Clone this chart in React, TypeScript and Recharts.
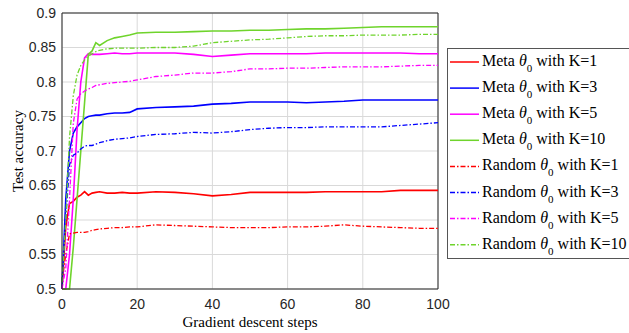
import React from "react";
import {
  LineChart,
  Line,
  XAxis,
  YAxis,
  CartesianGrid,
  Legend,
  ReferenceLine,
} from "recharts";

const steps = [0, 1, 2, 3, 4, 5, 6, 7, 8, 9, 10, 12, 14, 16, 18, 20, 25, 30, 35, 40, 45, 50, 55, 60, 65, 70, 75, 80, 85, 90, 95, 100];

const metaK1 = [0.5, 0.59, 0.624, 0.627, 0.633, 0.636, 0.641, 0.636, 0.639, 0.64, 0.641, 0.639, 0.639, 0.64, 0.639, 0.639, 0.641, 0.64, 0.638, 0.635, 0.637, 0.64, 0.64, 0.64, 0.64, 0.641, 0.641, 0.641, 0.641, 0.643, 0.643, 0.643];
const metaK3 = [0.5, 0.63, 0.7, 0.726, 0.735, 0.741, 0.747, 0.75, 0.751, 0.752, 0.752, 0.754, 0.755, 0.755, 0.756, 0.761, 0.763, 0.764, 0.765, 0.768, 0.769, 0.771, 0.771, 0.771, 0.77, 0.771, 0.772, 0.774, 0.774, 0.774, 0.774, 0.774];
const metaK5 = [0.5, 0.5, 0.55, 0.63, 0.73, 0.8, 0.835, 0.841, 0.84, 0.84, 0.84, 0.841, 0.842, 0.841, 0.841, 0.842, 0.842, 0.842, 0.84, 0.837, 0.839, 0.841, 0.841, 0.841, 0.841, 0.842, 0.842, 0.842, 0.842, 0.842, 0.841, 0.841];
const metaK10 = [0.5, 0.5, 0.5, 0.56, 0.63, 0.7, 0.77, 0.84, 0.845, 0.857, 0.853, 0.86, 0.864, 0.866, 0.868, 0.871, 0.872, 0.872, 0.873, 0.874, 0.874, 0.875, 0.875, 0.876, 0.877, 0.877, 0.878, 0.879, 0.88, 0.88, 0.88, 0.88];
const randK1 = [0.51, 0.55, 0.58, 0.581, 0.582, 0.582, 0.582, 0.583, 0.585, 0.586, 0.587, 0.588, 0.589, 0.589, 0.59, 0.59, 0.593, 0.592, 0.591, 0.59, 0.589, 0.589, 0.589, 0.59, 0.59, 0.591, 0.593, 0.591, 0.59, 0.589, 0.588, 0.588];
const randK3 = [0.51, 0.6, 0.68, 0.694, 0.697, 0.703, 0.707, 0.708, 0.708, 0.71, 0.712, 0.715, 0.717, 0.718, 0.719, 0.721, 0.724, 0.725, 0.727, 0.726, 0.728, 0.731, 0.733, 0.734, 0.734, 0.735, 0.735, 0.735, 0.735, 0.737, 0.739, 0.741];
const randK5 = [0.5, 0.53, 0.63, 0.74, 0.775, 0.783, 0.787, 0.79, 0.792, 0.795, 0.796, 0.798, 0.799, 0.8, 0.801, 0.803, 0.808, 0.81, 0.813, 0.813, 0.815, 0.819, 0.819, 0.82, 0.82, 0.821, 0.822, 0.822, 0.822, 0.823, 0.824, 0.824];
const randK10 = [0.51, 0.6, 0.72, 0.78, 0.81, 0.824, 0.832, 0.837, 0.841, 0.844, 0.846, 0.848, 0.849, 0.849, 0.849, 0.849, 0.85, 0.85, 0.852, 0.857, 0.859, 0.861, 0.862, 0.864, 0.866, 0.867, 0.867, 0.868, 0.868, 0.868, 0.869, 0.869];

const xTicks = [0, 20, 40, 60, 80, 100];
const yTicks = [0.5, 0.55, 0.6, 0.65, 0.7, 0.75, 0.8, 0.85, 0.9];

const RED = "#ff0000";
const BLUE = "#0000ff";
const MAGENTA = "#ff00ff";
const GREEN = "#6fd42c";
const DASH_DOT = "5 2 1.5 2";

const series = [
  { key: "metaK1", prefix: "Meta", k: 1, color: RED, dash: undefined, values: metaK1 },
  { key: "metaK3", prefix: "Meta", k: 3, color: BLUE, dash: undefined, values: metaK3 },
  { key: "metaK5", prefix: "Meta", k: 5, color: MAGENTA, dash: undefined, values: metaK5 },
  { key: "metaK10", prefix: "Meta", k: 10, color: GREEN, dash: undefined, values: metaK10 },
  { key: "randK1", prefix: "Random", k: 1, color: RED, dash: DASH_DOT, values: randK1 },
  { key: "randK3", prefix: "Random", k: 3, color: BLUE, dash: DASH_DOT, values: randK3 },
  { key: "randK5", prefix: "Random", k: 5, color: MAGENTA, dash: DASH_DOT, values: randK5 },
  { key: "randK10", prefix: "Random", k: 10, color: GREEN, dash: DASH_DOT, values: randK10 },
];

const data = steps.map((step, i) => {
  const row: Record<string, number> = { step };
  series.forEach((s) => {
    row[s.key] = s.values[i];
  });
  return row;
});

const AXIS_COLOR = "#262626";
const tickStyle = { fontSize: 14, fill: AXIS_COLOR, fontFamily: '"Liberation Sans", Arial, sans-serif' };
const serif = "'Liberation Serif', 'Times New Roman', serif";

const ROW_H = 26.1;

// legend drawn as svg so it uses the same serif face as the axis labels
const LegendBox = () => (
  <svg width={200} height={211} style={{ display: "block" }}>
    <rect x={0.5} y={0.5} width={199} height={210} fill="#fff" stroke="#555" />
    {series.map((s, i) => {
      const cy = 14 + i * ROW_H;
      return (
        <g key={s.key}>
          <line x1={3} y1={cy} x2={32} y2={cy} stroke={s.color} strokeWidth={1.5} strokeDasharray={s.dash} />
          <text x={35} y={cy + 4} fontFamily={serif} fontSize={16} fill="#000">
            {s.prefix + " "}
            <tspan fontStyle="italic">θ</tspan>
            <tspan fontSize={11} dy={6}>0</tspan>
            <tspan dy={-6}>{" with K=" + s.k}</tspan>
          </text>
        </g>
      );
    })}
  </svg>
);

const YLabel = ({ viewBox }: any) => {
  const cx = 18;
  const cy = viewBox.y + viewBox.height / 2;
  return (
    <text
      x={cx}
      y={cy}
      transform={`rotate(-90 ${cx} ${cy})`}
      textAnchor="middle"
      dominantBaseline="central"
      fontFamily={serif}
      fontSize={15}
      fill="#000"
    >
      Test accuracy
    </text>
  );
};

export default function App() {
  return (
    <div style={{ position: "absolute", left: 0, top: 0, width: 629, height: 333, overflow: "hidden", background: "#fff" }}>
      <LineChart width={629} height={333} data={data} margin={{ top: 13, right: 191, bottom: 0, left: 0 }}>
        <CartesianGrid stroke="#d9d9d9" />
        <XAxis
          dataKey="step"
          type="number"
          domain={[0, 100]}
          ticks={xTicks}
          height={44}
          tick={tickStyle}
          tickLine={false}
          tickSize={0}
          tickMargin={10}
          stroke={AXIS_COLOR}
          label={{
            value: "Gradient descent steps",
            position: "insideBottom",
            offset: 6,
            style: { fontFamily: serif, fontSize: 15, fill: "#000" },
          }}
        />
        <YAxis
          type="number"
          domain={[0.5, 0.9]}
          ticks={yTicks}
          width={62}
          tick={tickStyle}
          tickLine={false}
          tickSize={0}
          tickMargin={6}
          stroke={AXIS_COLOR}
          tickFormatter={(v: number) => String(+v.toFixed(2))}
          label={<YLabel />}
        />
        {/* top and right edges of the box */}
        <ReferenceLine y={0.9} stroke={AXIS_COLOR} />
        <ReferenceLine x={100} stroke={AXIS_COLOR} />
        <Legend
          layout="vertical"
          align="center"
          verticalAlign="middle"
          content={<LegendBox />}
          wrapperStyle={{ left: 447, top: 48, width: 200, height: 211 }}
        />
        {series.map((s) => (
          <Line
            key={s.key}
            dataKey={s.key}
            type="linear"
            stroke={s.color}
            strokeWidth={s.dash ? 1.3 : 1.6}
            strokeDasharray={s.dash}
            dot={false}
            activeDot={false}
            isAnimationActive={false}
          />
        ))}
      </LineChart>
    </div>
  );
}
